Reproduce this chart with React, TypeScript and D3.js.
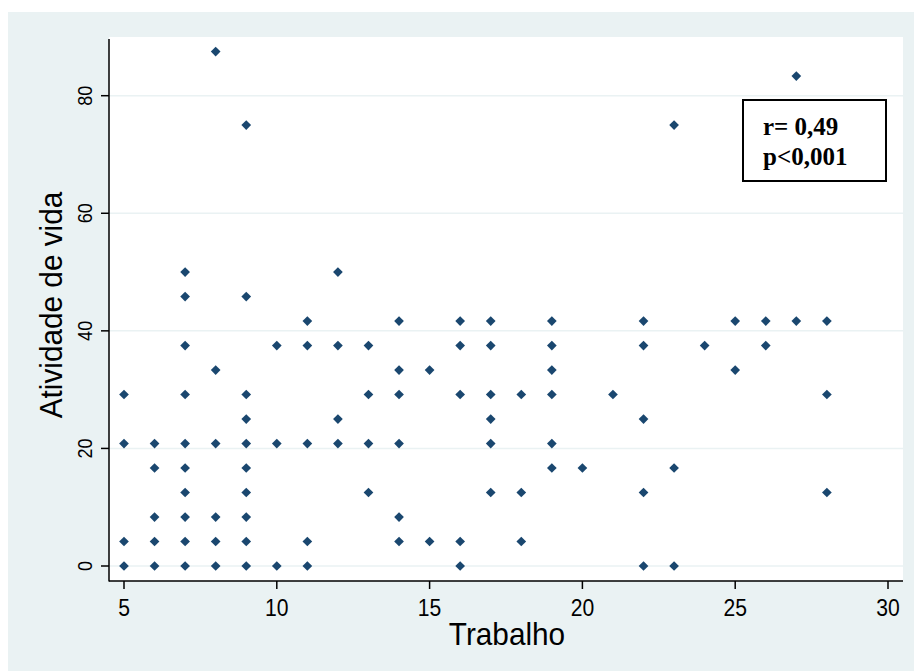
import React from "react";
import * as d3 from "d3";

// Trabalho (x) and Atividade de vida (y) scores, one entry per subject
const trabalho = [
  5, 5, 5, 5,
  6, 6, 6, 6, 6,
  7, 7, 7, 7, 7, 7, 7, 7, 7, 7,
  8, 8, 8, 8, 8, 8,
  9, 9, 9, 9, 9, 9, 9, 9, 9, 9,
  10, 10, 10,
  11, 11, 11, 11, 11,
  12, 12, 12, 12,
  13, 13, 13, 13,
  14, 14, 14, 14, 14, 14,
  15, 15,
  16, 16, 16, 16, 16,
  17, 17, 17, 17, 17, 17,
  18, 18, 18,
  19, 19, 19, 19, 19, 19,
  20,
  21,
  22, 22, 22, 22, 22,
  23, 23, 23,
  24,
  25, 25,
  26, 26,
  27, 27,
  28, 28, 28,
];

const atividadeVida = [
  0, 4.17, 20.83, 29.17,
  0, 4.17, 8.33, 16.67, 20.83,
  0, 4.17, 8.33, 12.5, 16.67, 20.83, 29.17, 37.5, 45.83, 50,
  0, 4.17, 8.33, 20.83, 33.33, 87.5,
  0, 4.17, 8.33, 12.5, 16.67, 20.83, 25, 29.17, 45.83, 75,
  0, 20.83, 37.5,
  0, 4.17, 20.83, 37.5, 41.67,
  20.83, 25, 37.5, 50,
  12.5, 20.83, 29.17, 37.5,
  4.17, 8.33, 20.83, 29.17, 33.33, 41.67,
  4.17, 33.33,
  0, 4.17, 29.17, 37.5, 41.67,
  12.5, 20.83, 25, 29.17, 37.5, 41.67,
  4.17, 12.5, 29.17,
  16.67, 20.83, 29.17, 33.33, 37.5, 41.67,
  16.67,
  29.17,
  0, 12.5, 25, 37.5, 41.67,
  0, 16.67, 75,
  37.5,
  33.33, 41.67,
  37.5, 41.67,
  41.67, 83.33,
  12.5, 29.17, 41.67,
];

const xTicks = [5, 10, 15, 20, 25, 30];
const yTicks = [0, 20, 40, 60, 80];
const statLines = ["r= 0,49", "p<0,001"];

const W = 914;
const H = 671;
const plot = { left: 109, right: 903, top: 37, bottom: 581 };

const BG = "#EAF2F3";
const NAVY = "#1A476F";
const SANS = "'Liberation Sans', Arial, sans-serif";
const SERIF = "'Liberation Serif', 'Times New Roman', serif";

export default function App() {
  const x = d3.scaleLinear().domain([5, 30]).range([124, 888]);
  const y = d3.scaleLinear().domain([0, 80]).range([566, 95.7]);

  const diamond = d3.symbol().type(d3.symbolDiamond2).size(60)() as string;

  const points = trabalho.map((t, i) => ({ t, a: atividadeVida[i] }));

  return (
    <svg
      width={W}
      height={H}
      style={{ position: "absolute", left: 0, top: 0, background: "#fff" }}
    >
      <rect x={8} y={12} width={W - 8} height={H - 12} fill={BG} />
      <rect
        x={plot.left}
        y={plot.top}
        width={plot.right - plot.left}
        height={plot.bottom - plot.top}
        fill="#fff"
      />

      {/* horizontal grid */}
      {yTicks.map((v) => (
        <line
          key={"g" + v}
          x1={plot.left}
          x2={plot.right}
          y1={y(v)}
          y2={y(v)}
          stroke={BG}
          strokeWidth={1.5}
        />
      ))}

      {/* points */}
      {points.map((p, i) => (
        <path
          key={i}
          d={diamond}
          transform={`translate(${x(p.t)},${y(p.a)})`}
          fill={NAVY}
        />
      ))}

      {/* axes */}
      <line x1={plot.left} x2={plot.left} y1={39} y2={plot.bottom + 0.5} stroke="#000" strokeWidth={1.5} />
      <line x1={plot.left} x2={plot.right} y1={plot.bottom} y2={plot.bottom} stroke="#000" strokeWidth={1.5} />

      {yTicks.map((v) => (
        <g key={"y" + v}>
          <line x1={plot.left - 8} x2={plot.left} y1={y(v)} y2={y(v)} stroke="#000" strokeWidth={1.5} />
          <text
            transform={`translate(92,${y(v)}) rotate(-90) scale(0.86,1)`}
            textAnchor="middle"
            fontFamily={SANS}
            fontSize={21}
            fill="#000"
          >
            {v}
          </text>
        </g>
      ))}

      {xTicks.map((v) => (
        <g key={"x" + v}>
          <line x1={x(v)} x2={x(v)} y1={plot.bottom} y2={plot.bottom + 8} stroke="#000" strokeWidth={1.5} />
          <text
            transform={`translate(${x(v)},616) scale(0.88,1)`}
            textAnchor="middle"
            fontFamily={SANS}
            fontSize={24}
            fill="#000"
          >
            {v}
          </text>
        </g>
      ))}

      <text
        transform={`translate(${(x(5) + x(30)) / 2 + 1},645) scale(0.93,1)`}
        textAnchor="middle"
        fontFamily={SANS}
        fontSize={32}
        fill="#000"
      >
        Trabalho
      </text>
      <text
        transform={`translate(62,305) rotate(-90) scale(0.93,1)`}
        textAnchor="middle"
        fontFamily={SANS}
        fontSize={32}
        fill="#000"
      >
        Atividade de vida
      </text>

      {/* correlation annotation */}
      <rect x={743} y={100} width={143} height={81} fill="#fff" stroke="#000" strokeWidth={2} />
      {statLines.map((s, i) => (
        <text
          key={s}
          x={763}
          y={135 + i * 30}
          fontFamily={SERIF}
          fontWeight="bold"
          fontSize={25}
          fill="#000"
        >
          {s}
        </text>
      ))}
    </svg>
  );
}
